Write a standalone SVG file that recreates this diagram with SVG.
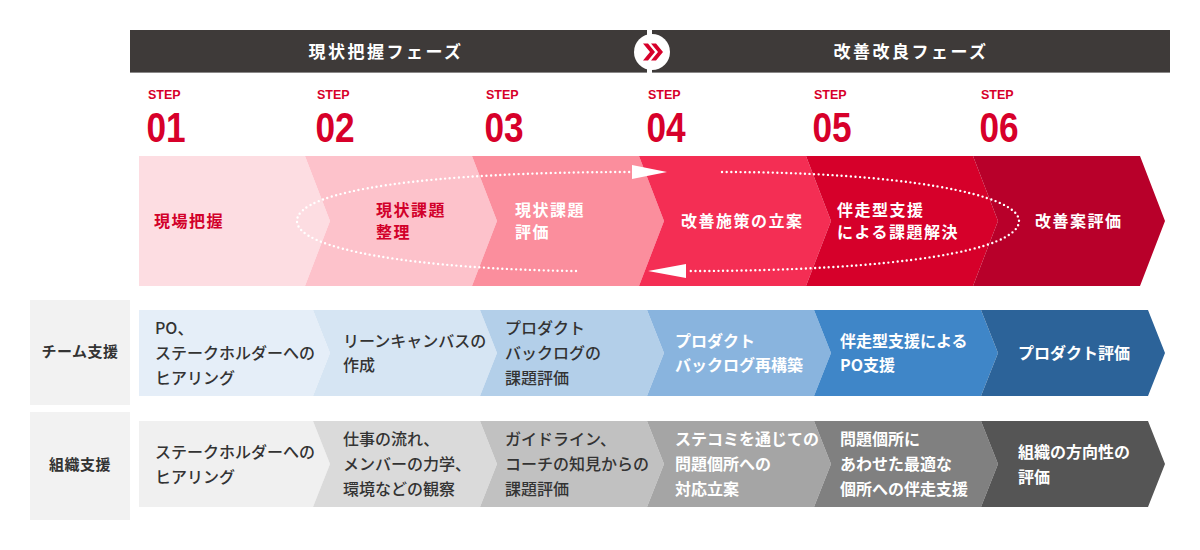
<svg xmlns="http://www.w3.org/2000/svg" width="1200" height="550" viewBox="0 0 1200 550">
<style>
.jp{font-family:"Noto Sans CJK JP","Noto Sans",sans-serif}
.hd{font-size:17px;font-weight:700;fill:#fff;letter-spacing:2.5px}
.step{font-family:"Liberation Sans",Arial,sans-serif;font-weight:700;fill:#d7002a}
.s1{font-size:12.5px}
.s2{font-size:42px}
.rt{font-size:16px;font-weight:700;letter-spacing:1.5px}
.red{fill:#d2002a}
.wh{fill:#fff}
.bt{font-size:16px}
.dk{fill:#333;font-weight:500}
.wb{fill:#fff;font-weight:700}
.lb{font-size:15px;font-weight:700;fill:#333;letter-spacing:0.5px}
.dot{fill:none;stroke:#fff;stroke-width:2.4;stroke-linecap:round;stroke-dasharray:0 4.6}
</style>
<rect width="1200" height="550" fill="#fff"/>

<g id="header">
<rect x="130" y="30" width="1040" height="43" fill="#3e3a39"/>
<rect x="130" y="72" width="1040" height="1" fill="#8a8888"/>
<rect x="647" y="30" width="5" height="43" fill="#fff"/>
<circle cx="652" cy="52" r="18" fill="#fff"/>
<polygon points="643,43.5 648,43.5 655,52 648,60.5 643,60.5 650,52" fill="#d7002a"/>
<polygon points="651,43.5 656,43.5 663,52 656,60.5 651,60.5 658,52" fill="#d7002a"/>
<text class="jp hd" x="386" y="58" text-anchor="middle">現状把握フェーズ</text>
<text class="jp hd" x="911" y="58" text-anchor="middle">改善改良フェーズ</text>
</g>

<g id="steps">
<text class="step s1" x="148" y="99">STEP</text><text class="step s2" transform="translate(146.5 142) scale(0.84 1)">01</text>
<text class="step s1" x="317" y="99">STEP</text><text class="step s2" transform="translate(315.5 142) scale(0.84 1)">02</text>
<text class="step s1" x="486" y="99">STEP</text><text class="step s2" transform="translate(484.5 142) scale(0.84 1)">03</text>
<text class="step s1" x="648" y="99">STEP</text><text class="step s2" transform="translate(646.5 142) scale(0.84 1)">04</text>
<text class="step s1" x="814" y="99">STEP</text><text class="step s2" transform="translate(812.5 142) scale(0.84 1)">05</text>
<text class="step s1" x="981" y="99">STEP</text><text class="step s2" transform="translate(979.5 142) scale(0.84 1)">06</text>
</g>

<g id="red-row">
<g id="r1"><polygon points="139,156 305,156 330,221 305,286 139,286" fill="#fddde2"/>
<text class="jp rt red" x="154" y="227">現場把握</text></g>
<g id="r2"><polygon points="305,156 472,156 497,221 472,286 305,286 330,221" fill="#fdc2cb"/>
<text class="jp rt red" x="376" y="216">現状課題</text><text class="jp rt red" x="376" y="238">整理</text></g>
<g id="r3"><polygon points="472,156 639,156 664,221 639,286 472,286 497,221" fill="#fb8e9d"/>
<text class="jp rt wh" x="515" y="216">現状課題</text><text class="jp rt wh" x="515" y="238">評価</text></g>
<g id="r4"><polygon points="639,156 806,156 831,221 806,286 639,286 664,221" fill="#f42e54"/>
<text class="jp rt wh" x="681" y="227">改善施策の立案</text></g>
<g id="r5"><polygon points="806,156 973,156 998,221 973,286 806,286 831,221" fill="#d6002a"/>
<text class="jp rt wh" x="837" y="216">伴走型支援</text><text class="jp rt wh" x="837" y="238">による課題解決</text></g>
<g id="r6"><polygon points="973,156 1140,156 1165,221 1140,286 973,286 998,221" fill="#b8002a"/>
<text class="jp rt wh" x="1035" y="227">改善案評価</text></g>
</g>

<g id="connectors">
<path class="dot" d="M 576 271 C 420 269, 297 250, 297 221 C 297 190, 430 172, 630 172"/>
<polygon points="632,165 667,172 632,179" fill="#fff"/>
<path class="dot" d="M 722 172 C 900 172, 1019 194, 1019 221 C 1019 250, 900 271, 688 271"/>
<polygon points="686,264 648,271 686,278" fill="#fff"/>
</g>

<g id="label-team">
<rect x="30" y="300" width="100" height="105" fill="#f2f2f2"/>
<text class="jp lb" x="80" y="357" text-anchor="middle">チーム支援</text>
</g>
<g id="label-org">
<rect x="30" y="412" width="100" height="108" fill="#f2f2f2"/>
<text class="jp lb" x="80" y="470" text-anchor="middle">組織支援</text>
</g>

<g id="blue-row">
<g id="b1"><polygon points="139,310 313,310 330,353 313,396 139,396" fill="#e5eef8"/>
<text class="jp bt dk" x="155" y="334">PO、</text><text class="jp bt dk" x="155" y="359">ステークホルダーへの</text><text class="jp bt dk" x="155" y="384">ヒアリング</text></g>
<g id="b2"><polygon points="313,310 480,310 497,353 480,396 313,396 330,353" fill="#d6e5f3"/>
<text class="jp bt dk" x="343" y="347">リーンキャンバスの</text><text class="jp bt dk" x="343" y="371">作成</text></g>
<g id="b3"><polygon points="480,310 647,310 664,353 647,396 480,396 497,353" fill="#b3cfe9"/>
<text class="jp bt dk" x="505" y="334">プロダクト</text><text class="jp bt dk" x="505" y="359">バックログの</text><text class="jp bt dk" x="505" y="384">課題評価</text></g>
<g id="b4"><polygon points="647,310 814,310 831,353 814,396 647,396 664,353" fill="#89b4de"/>
<text class="jp bt wb" x="675" y="347">プロダクト</text><text class="jp bt wb" x="675" y="371">バックログ再構築</text></g>
<g id="b5"><polygon points="814,310 981,310 998,353 981,396 814,396 831,353" fill="#3f86c8"/>
<text class="jp bt wb" x="840" y="347">伴走型支援による</text><text class="jp bt wb" x="840" y="371">PO支援</text></g>
<g id="b6"><polygon points="981,310 1148,310 1165,353 1148,396 981,396 998,353" fill="#2c6399"/>
<text class="jp bt wb" x="1018" y="359">プロダクト評価</text></g>
</g>

<g id="gray-row">
<g id="g1"><polygon points="139,421 313,421 330,464 313,507 139,507 139,421" fill="#f0f0f0"/>
<text class="jp bt dk" x="155" y="458">ステークホルダーへの</text><text class="jp bt dk" x="155" y="483">ヒアリング</text></g>
<g id="g2"><polygon points="313,421 480,421 497,464 480,507 313,507 330,464" fill="#dadada"/>
<text class="jp bt dk" x="343" y="445">仕事の流れ、</text><text class="jp bt dk" x="343" y="470">メンバーの力学、</text><text class="jp bt dk" x="343" y="495">環境などの観察</text></g>
<g id="g3"><polygon points="480,421 647,421 664,464 647,507 480,507 497,464" fill="#c1c1c1"/>
<text class="jp bt dk" x="505" y="445">ガイドライン、</text><text class="jp bt dk" x="505" y="470">コーチの知見からの</text><text class="jp bt dk" x="505" y="495">課題評価</text></g>
<g id="g4"><polygon points="647,421 814,421 831,464 814,507 647,507 664,464" fill="#a5a5a5"/>
<text class="jp bt wb" x="675" y="445">ステコミを通じての</text><text class="jp bt wb" x="675" y="470">問題個所への</text><text class="jp bt wb" x="675" y="495">対応立案</text></g>
<g id="g5"><polygon points="814,421 981,421 998,464 981,507 814,507 831,464" fill="#808080"/>
<text class="jp bt wb" x="840" y="445">問題個所に</text><text class="jp bt wb" x="840" y="470">あわせた最適な</text><text class="jp bt wb" x="840" y="495">個所への伴走支援</text></g>
<g id="g6"><polygon points="981,421 1148,421 1165,464 1148,507 981,507 998,464" fill="#555555"/>
<text class="jp bt wb" x="1018" y="458">組織の方向性の</text><text class="jp bt wb" x="1018" y="483">評価</text></g>
</g>
</svg>
